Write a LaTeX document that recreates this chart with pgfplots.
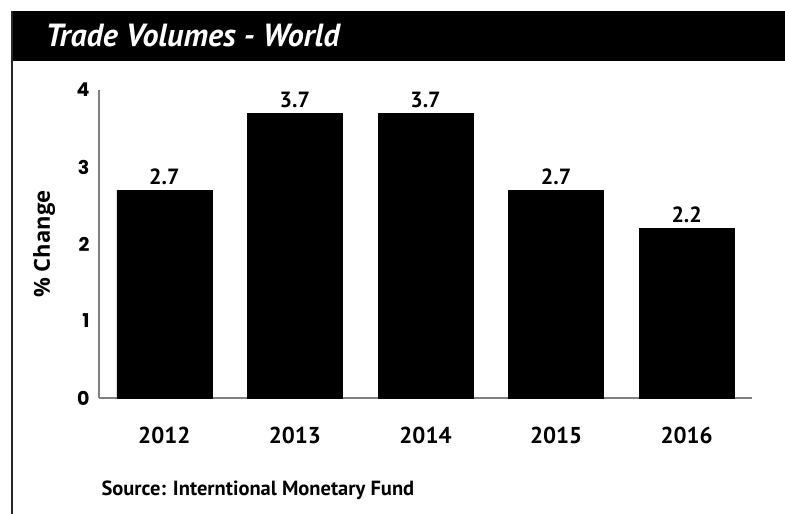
\documentclass[border=0pt]{standalone}
\usepackage{fontspec}
\setmainfont{PT Sans}
\newfontfamily\poppins{Poppins}
\newfontfamily\opensans{Open Sans}
\usepackage{pgfplots}
\pgfplotsset{compat=1.18}

\begin{document}
\begin{tikzpicture}[x=1pt,y=1pt]
\useasboundingbox (0,0) rectangle (785,-514);
% header band and left frame line
\fill[black] (12,-11) rectangle (785,-61);
\draw[black!85, line width=1.3pt] (12,-11) -- (12,-514);
\node[anchor=west, text=white, font=\fontsize{32}{35}\selectfont\bfseries\itshape] at (42,-36) {Trade Volumes - World};

\begin{axis}[
  at={(99pt,-398pt)}, anchor=south west,
  scale only axis, width=653pt, height=308pt,
  ybar, bar width=95pt,
  xmin=-0.5, xmax=4.5, ymin=0, ymax=4,
  xtick=data,
  xticklabels={2012,2013,2014,2015,2016},
  ytick={0,1,2,3,4},
  axis x line=bottom, axis y line=left,
  axis line style={-, draw=black!50, line width=1.2pt},
  major tick length=0pt,
  /pgf/number format/assume math mode=true,
  xticklabel style={font=\fontsize{23}{26}\selectfont\bfseries, yshift=-26pt},
  yticklabel style={font=\fontsize{19}{22}\selectfont\poppins\bfseries, xshift=-6pt},
  ylabel={\% Change},
  ylabel style={font=\fontsize{22}{26}\selectfont\opensans\bfseries, at={(axis description cs:-0.084,0.5)}, anchor=center},
  nodes near coords,
  nodes near coords style={font=\fontsize{22}{26}\selectfont\bfseries, anchor=south, yshift=2pt,
    /pgf/number format/fixed, /pgf/number format/precision=1},
  clip=false,
]
\addplot[fill=black, draw=black] coordinates {(0,2.7) (1,3.7) (2,3.7) (3,2.7) (4,2.2)};
\end{axis}

\node[anchor=west, font=\fontsize{20.5}{24}\selectfont\bfseries] at (98,-490) {Source: Interntional Monetary Fund};
\end{tikzpicture}
\end{document}
